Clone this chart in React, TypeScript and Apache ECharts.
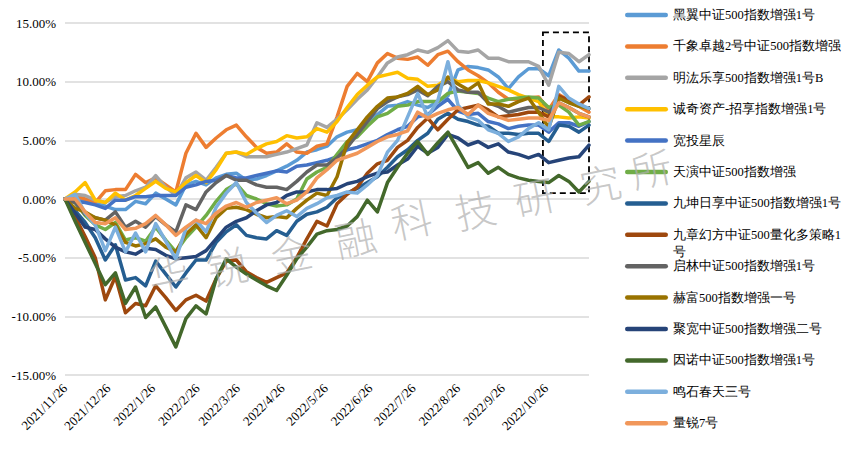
import React, { useEffect, useRef } from 'react';
import * as echarts from 'echarts';

const weekDates = [
  '2021/11/26', '2021/12/3', '2021/12/10', '2021/12/17', '2021/12/24', '2021/12/31',
  '2022/1/7', '2022/1/14', '2022/1/21', '2022/1/28', '2022/2/4', '2022/2/11', '2022/2/18', '2022/2/25',
  '2022/3/4', '2022/3/11', '2022/3/18', '2022/3/25', '2022/4/1', '2022/4/8', '2022/4/15', '2022/4/22', '2022/4/29',
  '2022/5/6', '2022/5/13', '2022/5/20', '2022/5/27', '2022/6/3', '2022/6/10', '2022/6/17', '2022/6/24',
  '2022/7/1', '2022/7/8', '2022/7/15', '2022/7/22', '2022/7/29', '2022/8/5', '2022/8/12', '2022/8/19', '2022/8/26',
  '2022/9/2', '2022/9/9', '2022/9/16', '2022/9/23', '2022/9/30', '2022/10/7', '2022/10/14', '2022/10/21', '2022/10/28',
  '2022/11/4', '2022/11/11', '2022/11/18', '2022/11/25',
];

const xTickLabels = [
  '2021/11/26', '2021/12/26', '2022/1/26', '2022/2/26', '2022/3/26', '2022/4/26',
  '2022/5/26', '2022/6/26', '2022/7/26', '2022/8/26', '2022/9/26', '2022/10/26',
];

const yMin = -15;
const yMax = 15;
const yStep = 5;

const seriesNames = [
  '黑翼中证500指数增强1号',
  '千象卓越2号中证500指数增强',
  '明汯乐享500指数增强1号B',
  '诚奇资产-招享指数增强1号',
  '宽投星辰',
  '天演中证500指数增强',
  '九坤日享中证500指数增强1号',
  '九章幻方中证500量化多策略1号',
  '启林中证500指数增强1号',
  '赫富500指数增强一号',
  '聚宽中证500指数增强二号',
  '因诺中证500指数增强1号',
  '鸣石春天三号',
  '量锐7号',
];

const heiyi = [0, 0.3, -0.2, -0.4, -0.6, -0.9, -0.9, -0.2, -0.4, 0.5, 0.0, -0.5, 1.2, 1.5, 1.2, 1.8, 2.1, 2.2, 1.6, 1.7, 2.0, 2.4, 2.8, 3.3, 4.0, 4.2, 4.5, 5.3, 5.7, 5.9, 6.6, 7.2, 7.9, 8.0, 8.3, 8.0, 7.8, 8.3, 8.8, 11.0, 11.3, 11.2, 11.0, 10.4, 9.4, 10.4, 11.1, 11.1, 10.5, 12.7, 12.0, 10.9, 10.9];
const qianxiang = [0, 0.3, 0.0, -0.3, 0.7, 0.8, 0.8, 2.1, 1.4, 1.8, 1.2, 0.6, 3.9, 5.6, 4.4, 5.2, 5.9, 6.3, 5.3, 4.4, 3.9, 4.0, 4.7, 4.0, 3.9, 4.5, 4.7, 7.0, 9.6, 10.7, 10.0, 11.6, 12.4, 12.0, 11.9, 12.1, 11.4, 12.3, 12.6, 11.7, 11.0, 10.5, 9.9, 9.1, 8.5, 8.5, 8.6, 8.7, 7.6, 8.9, 8.4, 7.9, 7.4];
const minghong = [0, 0.4, 0.3, -0.1, -0.3, 0.2, 0.3, 0.7, 1.0, 2.0, 1.0, 0.3, 1.8, 2.3, 1.6, 2.7, 3.9, 4.0, 3.6, 3.6, 3.6, 3.8, 4.0, 4.3, 4.6, 6.5, 6.1, 6.8, 7.6, 8.5, 9.3, 10.4, 11.6, 12.1, 12.3, 12.7, 12.5, 12.9, 13.5, 12.6, 12.5, 12.7, 12.0, 12.0, 11.7, 11.7, 11.7, 11.3, 9.7, 12.5, 12.4, 11.7, 12.3];
const chengqi = [0, 0.6, 1.4, -0.1, -0.3, 0.5, -0.1, 0.3, 0.9, 1.5, 0.9, 0.6, 1.4, 2.0, 1.4, 2.5, 3.9, 4.0, 3.8, 4.3, 4.7, 4.9, 5.4, 5.2, 5.3, 6.0, 5.7, 6.6, 7.8, 8.9, 9.7, 10.4, 10.6, 10.8, 10.3, 10.2, 9.6, 9.7, 10.3, 10.0, 10.1, 10.1, 9.9, 9.6, 9.3, 8.9, 8.6, 8.3, 7.0, 7.0, 6.9, 7.0, 6.9];
const kuantou = [0, -0.2, -0.3, -0.5, -0.8, -0.1, -0.1, 0.2, 0.2, 0.3, 0.3, 0.3, 1.0, 1.2, 1.5, 1.6, 2.0, 1.8, 1.8, 2.0, 2.2, 2.4, 2.3, 2.8, 2.9, 3.1, 3.3, 3.6, 4.2, 4.4, 4.7, 5.0, 5.5, 5.9, 6.2, 7.0, 7.2, 7.9, 8.5, 7.5, 7.2, 7.3, 6.6, 6.4, 6.0, 6.2, 6.3, 6.3, 5.7, 6.5, 6.5, 6.2, 6.6];
const tianyan = [0, -0.3, -1.4, -2.2, -2.6, -2.0, -3.5, -3.3, -3.6, -2.4, -3.5, -4.5, -3.3, -2.4, -1.4, -0.2, 0.8, 1.3, 0.3, 0.0, -0.4, -0.6, -0.5, 0.0, 1.7, 2.3, 2.7, 3.8, 4.9, 5.3, 6.2, 7.0, 7.3, 7.9, 8.0, 8.3, 8.3, 8.3, 9.0, 9.2, 9.1, 9.0, 8.6, 8.3, 8.5, 8.6, 8.7, 8.6, 7.8, 8.0, 7.4, 6.3, 6.6];
const jiukun = [0, -1.0, -2.0, -3.3, -5.2, -3.9, -6.9, -6.7, -7.4, -5.3, -6.4, -7.5, -6.3, -5.2, -5.2, -3.7, -2.8, -2.2, -3.1, -3.3, -3.4, -2.7, -3.1, -1.9, -1.3, -1.1, -0.7, 0.1, 0.5, 0.9, 1.4, 1.9, 2.7, 3.6, 4.2, 5.0, 5.6, 6.8, 7.3, 6.8, 6.6, 6.3, 6.2, 5.6, 5.6, 5.5, 5.6, 5.6, 4.9, 6.3, 6.2, 5.7, 6.3];
const jiuzhang = [0, -1.5, -3.2, -5.0, -8.6, -6.6, -9.7, -8.9, -9.1, -7.4, -8.4, -9.5, -8.6, -8.2, -8.7, -6.8, -5.3, -5.2, -6.2, -6.7, -7.1, -6.7, -6.3, -5.0, -3.4, -1.9, -2.3, -0.4, 0.4, 1.0, 2.2, 3.0, 3.3, 4.4, 5.0, 6.1, 6.9, 5.9, 6.8, 7.6, 7.8, 8.0, 7.6, 7.0, 7.1, 7.2, 7.4, 7.4, 7.0, 8.8, 8.4, 8.0, 8.7];
const qilin = [0, -0.3, -1.3, -1.6, -1.8, -1.1, -2.4, -1.9, -2.4, -1.5, -2.2, -2.8, -0.5, -0.9, 0.6, 1.4, 2.0, 1.6, 1.6, 1.2, 1.0, 1.0, 0.8, 1.5, 2.3, 2.9, 2.9, 3.5, 4.4, 5.5, 6.6, 7.7, 8.3, 8.7, 8.9, 9.3, 8.8, 9.6, 10.0, 9.3, 9.1, 9.1, 8.2, 7.9, 7.4, 7.6, 7.8, 7.8, 7.4, 8.2, 7.8, 7.3, 7.0];
const hefu = [0, -0.8, -1.1, -1.6, -1.8, -2.2, -3.7, -4.0, -3.8, -3.4, -4.1, -4.5, -3.0, -2.2, -3.3, -1.6, -0.8, -0.7, -0.9, -1.3, -1.6, -1.5, -1.6, -0.8, -0.1, 0.5, 0.3, 1.9, 4.8, 5.9, 7.0, 7.9, 8.6, 8.7, 9.0, 9.6, 8.9, 9.3, 10.4, 9.8, 9.3, 9.9, 8.1, 8.1, 7.9, 8.3, 8.6, 7.4, 6.1, 8.6, 8.2, 7.9, 7.7];
const jukuan = [0, -1.2, -2.4, -2.6, -3.4, -4.1, -4.5, -4.7, -4.2, -4.3, -4.8, -5.1, -5.0, -4.9, -4.4, -3.4, -2.4, -1.9, -1.6, -1.0, -0.5, -0.3, 0.3, 0.6, 0.6, 0.8, 0.8, 0.9, 1.3, 1.5, 1.9, 2.2, 2.3, 2.9, 3.4, 4.5, 3.9, 4.4, 5.5, 5.2, 4.6, 4.9, 4.4, 4.7, 4.0, 3.8, 3.5, 3.8, 3.1, 3.3, 3.5, 3.6, 4.6];
const yinnuo = [0, -1.9, -3.7, -5.5, -7.3, -6.3, -8.9, -7.5, -10.1, -9.2, -10.9, -12.6, -10.2, -9.1, -9.8, -6.8, -5.1, -5.8, -6.4, -6.9, -7.4, -7.8, -6.5, -5.1, -4.1, -3.0, -2.7, -2.6, -2.3, -1.5, -0.1, -1.1, 1.4, 2.7, 3.9, 4.9, 3.8, 4.8, 5.7, 4.2, 2.7, 3.1, 2.2, 2.7, 2.1, 1.8, 1.6, 1.5, 1.4, 2.0, 1.5, 0.6, 1.5];
const mingshi = [0, 0.4, -1.2, -2.2, -4.4, -2.4, -4.5, -2.9, -4.5, -2.1, -3.6, -5.1, -2.5, -1.8, -2.8, -0.7, 0.5, 1.4, -0.3, -1.2, -2.0, -1.4, -1.0, -1.5, -0.8, -0.4, 0.1, 0.3, 0.6, 0.5, 1.2, 2.0, 4.0, 5.0, 7.0, 9.0, 7.0, 8.4, 11.7, 8.0, 7.0, 6.7, 5.9, 5.6, 4.9, 5.3, 6.0, 6.5, 5.9, 9.6, 8.6, 8.1, 7.7];
const liangrui = [0, 0.0, -1.1, -2.0, -2.1, -1.6, -2.6, -2.5, -2.1, -1.4, -2.2, -3.1, -2.4, -1.8, -2.1, -1.2, -0.6, -0.3, -0.7, -0.3, -0.1, 0.1, -0.4, -0.1, 0.6, 1.8, 2.5, 3.3, 3.6, 3.9, 4.4, 4.9, 5.3, 5.5, 5.8, 7.4, 6.9, 7.3, 7.6, 7.8, 7.2, 8.0, 7.3, 7.0, 6.7, 6.8, 6.9, 6.9, 6.7, 8.2, 7.8, 7.3, 7.0];

const seriesValues = [heiyi, qianxiang, minghong, chengqi, kuantou, tianyan, jiukun, jiuzhang, qilin, hefu, jukuan, yinnuo, mingshi, liangrui];

// highlighted window (dashed box), in data units
const boxFromDate = '2022/10/24';
const boxToDate = '2022/11/25';
const boxFromPct = 0.5;
const boxToPct = 14.2;

const watermarkText = '华锐金融科技研究所';

const COLORS = ['#5B9BD5', '#ED7D31', '#A5A5A5', '#FFC000', '#4472C4', '#70AD47', '#255E91', '#9E480E', '#636363', '#997300', '#264478', '#43682B', '#7CAFDD', '#F1975A'];

const SERIF = 'Liberation Serif';

function dayOffset(d: string): number {
  const [y, m, dd] = d.split('/').map(Number);
  const [y0, m0, d0] = weekDates[0].split('/').map(Number);
  return Math.round((Date.UTC(y, m - 1, dd) - Date.UTC(y0, m0 - 1, d0)) / 86400000);
}

export default function App() {
  const ref = useRef<HTMLDivElement>(null);

  useEffect(() => {
    document.body.style.margin = '0';
    if (!ref.current) return;
    const chart = echarts.init(ref.current, undefined, { renderer: 'svg' });

    const xs = weekDates.map(dayOffset);
    const tickOffsets = xTickLabels.map(dayOffset);
    const labelOf: Record<number, string> = {};
    tickOffsets.forEach((o, i) => { labelOf[o] = xTickLabels[i]; });
    const longName = seriesNames[7];

    const series: any[] = seriesNames.map((name, i) => ({
      name,
      type: 'line',
      symbol: 'none',
      smooth: false,
      data: seriesValues[i].map((v, j) => [xs[j], v]),
      itemStyle: { color: COLORS[i] },
      lineStyle: { color: COLORS[i], width: 3.5, cap: 'round', join: 'round' },
      emphasis: { disabled: true },
      z: 2,
    }));
    series[0].markArea = {
      silent: true,
      itemStyle: { color: 'rgba(0,0,0,0)', borderColor: '#000', borderWidth: 1.8, borderType: [6, 4] },
      data: [[
        { xAxis: dayOffset(boxFromDate), yAxis: boxToPct },
        { xAxis: dayOffset(boxToDate), yAxis: boxFromPct },
      ]],
    };

    const wmPos = [
      [168, 272], [227, 265], [291, 252], [355, 236], [411, 218], [475, 208], [534, 195], [600, 182], [651, 167],
    ];
    const watermark = watermarkText.split('').map((ch, i) => ({
      type: 'text',
      x: wmPos[i][0],
      y: wmPos[i][1],
      rotation: 0.2,
      z: 100,
      silent: true,
      style: {
        text: ch,
        align: 'center',
        verticalAlign: 'middle',
        fontSize: 41,
        fontWeight: 300,
        fontFamily: 'Noto Sans CJK SC',
        fill: 'rgba(175,175,175,0.7)',
      },
    }));

    chart.setOption({
      animation: false,
      backgroundColor: '#ffffff',
      grid: { left: 65, right: 253, top: 23, bottom: 76, containLabel: false },
      xAxis: {
        type: 'value',
        min: 0,
        max: xs[xs.length - 1],
        axisLine: { show: false },
        axisTick: { show: false },
        splitLine: { show: false },
        axisLabel: {
          customValues: tickOffsets,
          formatter: (v: number) => labelOf[Math.round(v)] ?? '',
          rotate: 45,
          margin: 11,
          fontSize: 13,
          fontFamily: SERIF,
          color: '#000',
        },
      },
      yAxis: {
        type: 'value',
        min: yMin,
        max: yMax,
        interval: yStep,
        axisLine: { show: false },
        axisTick: { show: false },
        axisLabel: {
          formatter: (v: number) => v.toFixed(2) + '%',
          fontSize: 13,
          fontFamily: SERIF,
          color: '#000',
          margin: 9,
        },
        splitLine: { lineStyle: { color: '#d9d9d9', width: 1.5 } },
      },
      legend: {
        orient: 'vertical',
        left: 625,
        top: 6.5,
        padding: 0,
        itemGap: 14.4,
        itemWidth: 43,
        itemHeight: 4.5,
        icon: 'path://M2.25,0H40.75A2.25,2.25,0,0,1,40.75,4.5H2.25A2.25,2.25,0,0,1,2.25,0Z',
        selectedMode: false,
        textStyle: { fontSize: 12.5, lineHeight: 17, color: '#000', fontFamily: SERIF },
        formatter: (n: string) => (n === longName ? n.slice(0, -1) : n),
        data: seriesNames,
      },
      graphic: [
        {
          type: 'text',
          x: 673,
          y: 252,
          silent: true,
          style: {
            text: longName.slice(-1),
            verticalAlign: 'middle',
            fontSize: 12.5,
            fontFamily: SERIF,
            fill: '#000',
          },
        },
        ...watermark,
      ],
      series,
    });

    return () => chart.dispose();
  }, []);

  return <div ref={ref} style={{ width: 842, height: 451 }} />;
}
